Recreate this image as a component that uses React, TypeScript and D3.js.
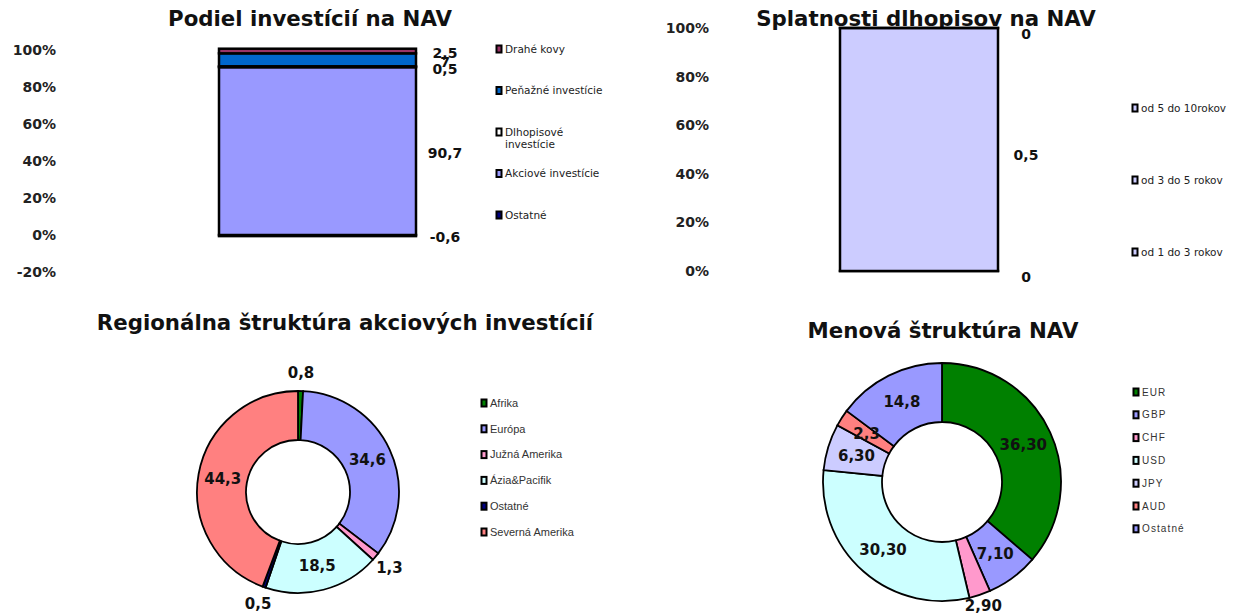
import React from "react";
import * as d3 from "d3";

// ---- data
const navKeys = ["Ostatné", "Akciové investície", "Dlhopisové investície", "Peňažné investície", "Drahé kovy"];
const navValues = [-0.6, 90.7, 0.5, 7, 2.5];
const navLabels = ["-0,6", "90,7", "0,5", "7", "2,5"];
const navColors = ["#000080", "#9999FF", "#FFFFFF", "#0066CC", "#993366"];
const navLegend = ["Drahé kovy", "Peňažné investície", "Dlhopisové\ninvestície", "Akciové investície", "Ostatné"];
const navTicks = [-20, 0, 20, 40, 60, 80, 100];

const bondKeys = ["od 1 do 3 rokov", "od 3 do 5 rokov", "od 5 do 10rokov"];
const bondValues = [0, 0.5, 0];
const bondLabels = ["0", "0,5", "0"];
const bondTicks = [0, 20, 40, 60, 80, 100];

const regionNames = ["Afrika", "Európa", "Južná Amerika", "Ázia&Pacifik", "Ostatné", "Severná Amerika"];
const regionValues = [0.8, 34.6, 1.3, 18.5, 0.5, 44.3];
const regionLabels = ["0,8", "34,6", "1,3", "18,5", "0,5", "44,3"];
const regionColors = ["#008000", "#9999FF", "#FF99CC", "#CCFFFF", "#000080", "#FF8080"];
const regionPlace = ["out", "in", "out", "in", "out", "in"];

const currNames = ["EUR", "GBP", "CHF", "USD", "JPY", "AUD", "Ostatné"];
const currValues = [36.3, 7.1, 2.9, 30.3, 6.3, 2.3, 14.8];
const currLabels = ["36,30", "7,10", "2,90", "30,30", "6,30", "2,3", "14,8"];
const currColors = ["#008000", "#9999FF", "#FF99CC", "#CCFFFF", "#CCCCFF", "#FF8080", "#9999FF"];
const currPlace = ["in", "in", "out", "in", "in", "in", "in"];

const BOLD = "'DejaVu Sans', Verdana, sans-serif";
const pct = (v: number) => `${v}%`;

//
// stacked single bar with value labels at the right
const StackBar = ({ keys, values, labels, colors, ticks, tickK = 1, domain, yRange, barX, barW, tickX, labelX, labelDy = 0, offset }: any) => {
  const y = d3.scaleLinear().domain(domain).range(yRange);
  const row: any = {};
  keys.forEach((k: string, i: number) => (row[k] = values[i]));
  const series = d3.stack().keys(keys).offset(offset)([row]);
  return (
    <g>
      {ticks.map((t: number) => (
        <text key={t} x={tickX} y={y(t * tickK)} dy="0.35em" textAnchor="end" fontFamily={BOLD} fontWeight="bold" fontSize={14} fill="#222">
          {pct(t)}
        </text>
      ))}
      {series.map((s: any, i: number) => {
        const [a, b] = s[0];
        const y0 = y(Math.max(a, b));
        const y1 = y(Math.min(a, b));
        return (
          <rect key={keys[i]} x={barX} width={barW} y={y0} height={Math.max(y1 - y0, 0.01)} fill={colors[i]} stroke="#000" strokeWidth={2.5} />
        );
      })}
      {series.map((s: any, i: number) => {
        const [a, b] = s[0];
        return (
          <text key={"l" + i} x={labelX} y={y((a + b) / 2) + labelDy} dy="0.35em" textAnchor="middle" fontFamily={BOLD} fontWeight="bold" fontSize={14} fill="#111">
            {labels[i]}
          </text>
        );
      })}
    </g>
  );
};

//
const Donut = ({ values, labels, colors, place, cx, cy, outer, inner, outsideR }: any) => {
  const pie = d3.pie<number>().sort(null).value((d) => d);
  const arcs = pie(values);
  const arc = d3.arc<any>().innerRadius(inner).outerRadius(outer);
  const mid = d3.arc<any>().innerRadius((inner + outer) / 2).outerRadius((inner + outer) / 2);
  const out = d3.arc<any>().innerRadius(outsideR).outerRadius(outsideR);
  return (
    <g transform={`translate(${cx},${cy})`}>
      {arcs.map((a, i) => (
        <path key={i} d={arc(a) as string} fill={colors[i]} stroke="#000" strokeWidth={1.8} />
      ))}
      {arcs.map((a, i) => {
        const [lx, ly] = (place[i] === "out" ? out : mid).centroid(a);
        return (
          <text key={"t" + i} x={lx} y={ly} dy="0.35em" textAnchor="middle" fontFamily={BOLD} fontWeight="bold" fontSize={15} fill="#111">
            {labels[i]}
          </text>
        );
      })}
    </g>
  );
};

//
const Legend = ({ names, colors, x, y0, step, font, size, spacing = 0, color = "#222" }: any) => (
  <g>
    {names.map((n: string, i: number) => {
      const lines = n.split("\n");
      return (
        <g key={n} transform={`translate(${x},${y0 + i * step})`}>
          <rect x={-7.5} y={-3.5} width={5} height={7} fill={colors[i]} stroke="#000" strokeWidth={2} />
          <text x={1} y={0} fontFamily={font} fontSize={size} letterSpacing={spacing} fill={color}>
            {lines.map((l, j) => (
              <tspan key={j} x={1} dy={j === 0 ? "0.35em" : "1.2em"}>
                {l}
              </tspan>
            ))}
          </text>
        </g>
      );
    })}
  </g>
);

const Title = ({ x, y, text }: any) => (
  <text x={x} y={y} textAnchor="middle" fontFamily={BOLD} fontWeight="bold" fontSize={21.3} fill="#111">
    {text}
  </text>
);

export default function App() {
  const navLegendColors = [...navColors].reverse();
  const bondColors = ["#CCCCFF", "#CCCCFF", "#CCCCFF"];
  return (
    <svg width={1241} height={614} style={{ position: "absolute", left: 0, top: 0, background: "#fff" }}>
      <Title x={310} y={26} text="Podiel investícií na NAV" />
      <StackBar
        keys={navKeys}
        values={navValues}
        labels={navLabels}
        colors={navColors}
        ticks={navTicks}
        domain={[-20, 100]}
        yRange={[272, 50]}
        barX={219}
        barW={197}
        tickX={56}
        labelX={445}
        labelDy={2}
        offset={d3.stackOffsetDiverging}
      />
      <Legend names={navLegend} colors={navLegendColors} x={504} y0={49} step={41.5} font="'DejaVu Sans', sans-serif" size={10.5} />

      <Title x={926} y={26} text="Splatnosti dlhopisov na NAV" />
      <StackBar
        keys={bondKeys}
        values={bondValues}
        labels={bondLabels}
        colors={bondColors}
        ticks={bondTicks}
        tickK={0.01}
        domain={[0, 1]}
        yRange={[271, 28]}
        barX={840}
        barW={158}
        tickX={709}
        labelX={1026}
        labelDy={6}
        offset={d3.stackOffsetExpand}
      />
      <Legend names={[...bondKeys].reverse()} colors={bondColors} x={1140} y0={108} step={72} font="'DejaVu Sans', sans-serif" size={10.5} />

      <Title x={345} y={330} text="Regionálna štruktúra akciových investícií" />
      <Donut values={regionValues} labels={regionLabels} colors={regionColors} place={regionPlace} cx={298} cy={492} outer={101} inner={52} outsideR={119} />
      <Legend names={regionNames} colors={regionColors} x={489} y0={403} step={25.8} font="'Liberation Sans', Arial, sans-serif" size={11} color="#333" />

      <Title x={943} y={338} text="Menová štruktúra NAV" />
      <Donut values={currValues} labels={currLabels} colors={currColors} place={currPlace} cx={942} cy={482} outer={119} inner={60} outsideR={130} />
      <Legend names={currNames} colors={currColors} x={1141} y0={392} step={22.8} font="'Liberation Sans', Arial, sans-serif" size={10} spacing={1.1} color="#333" />
    </svg>
  );
}
